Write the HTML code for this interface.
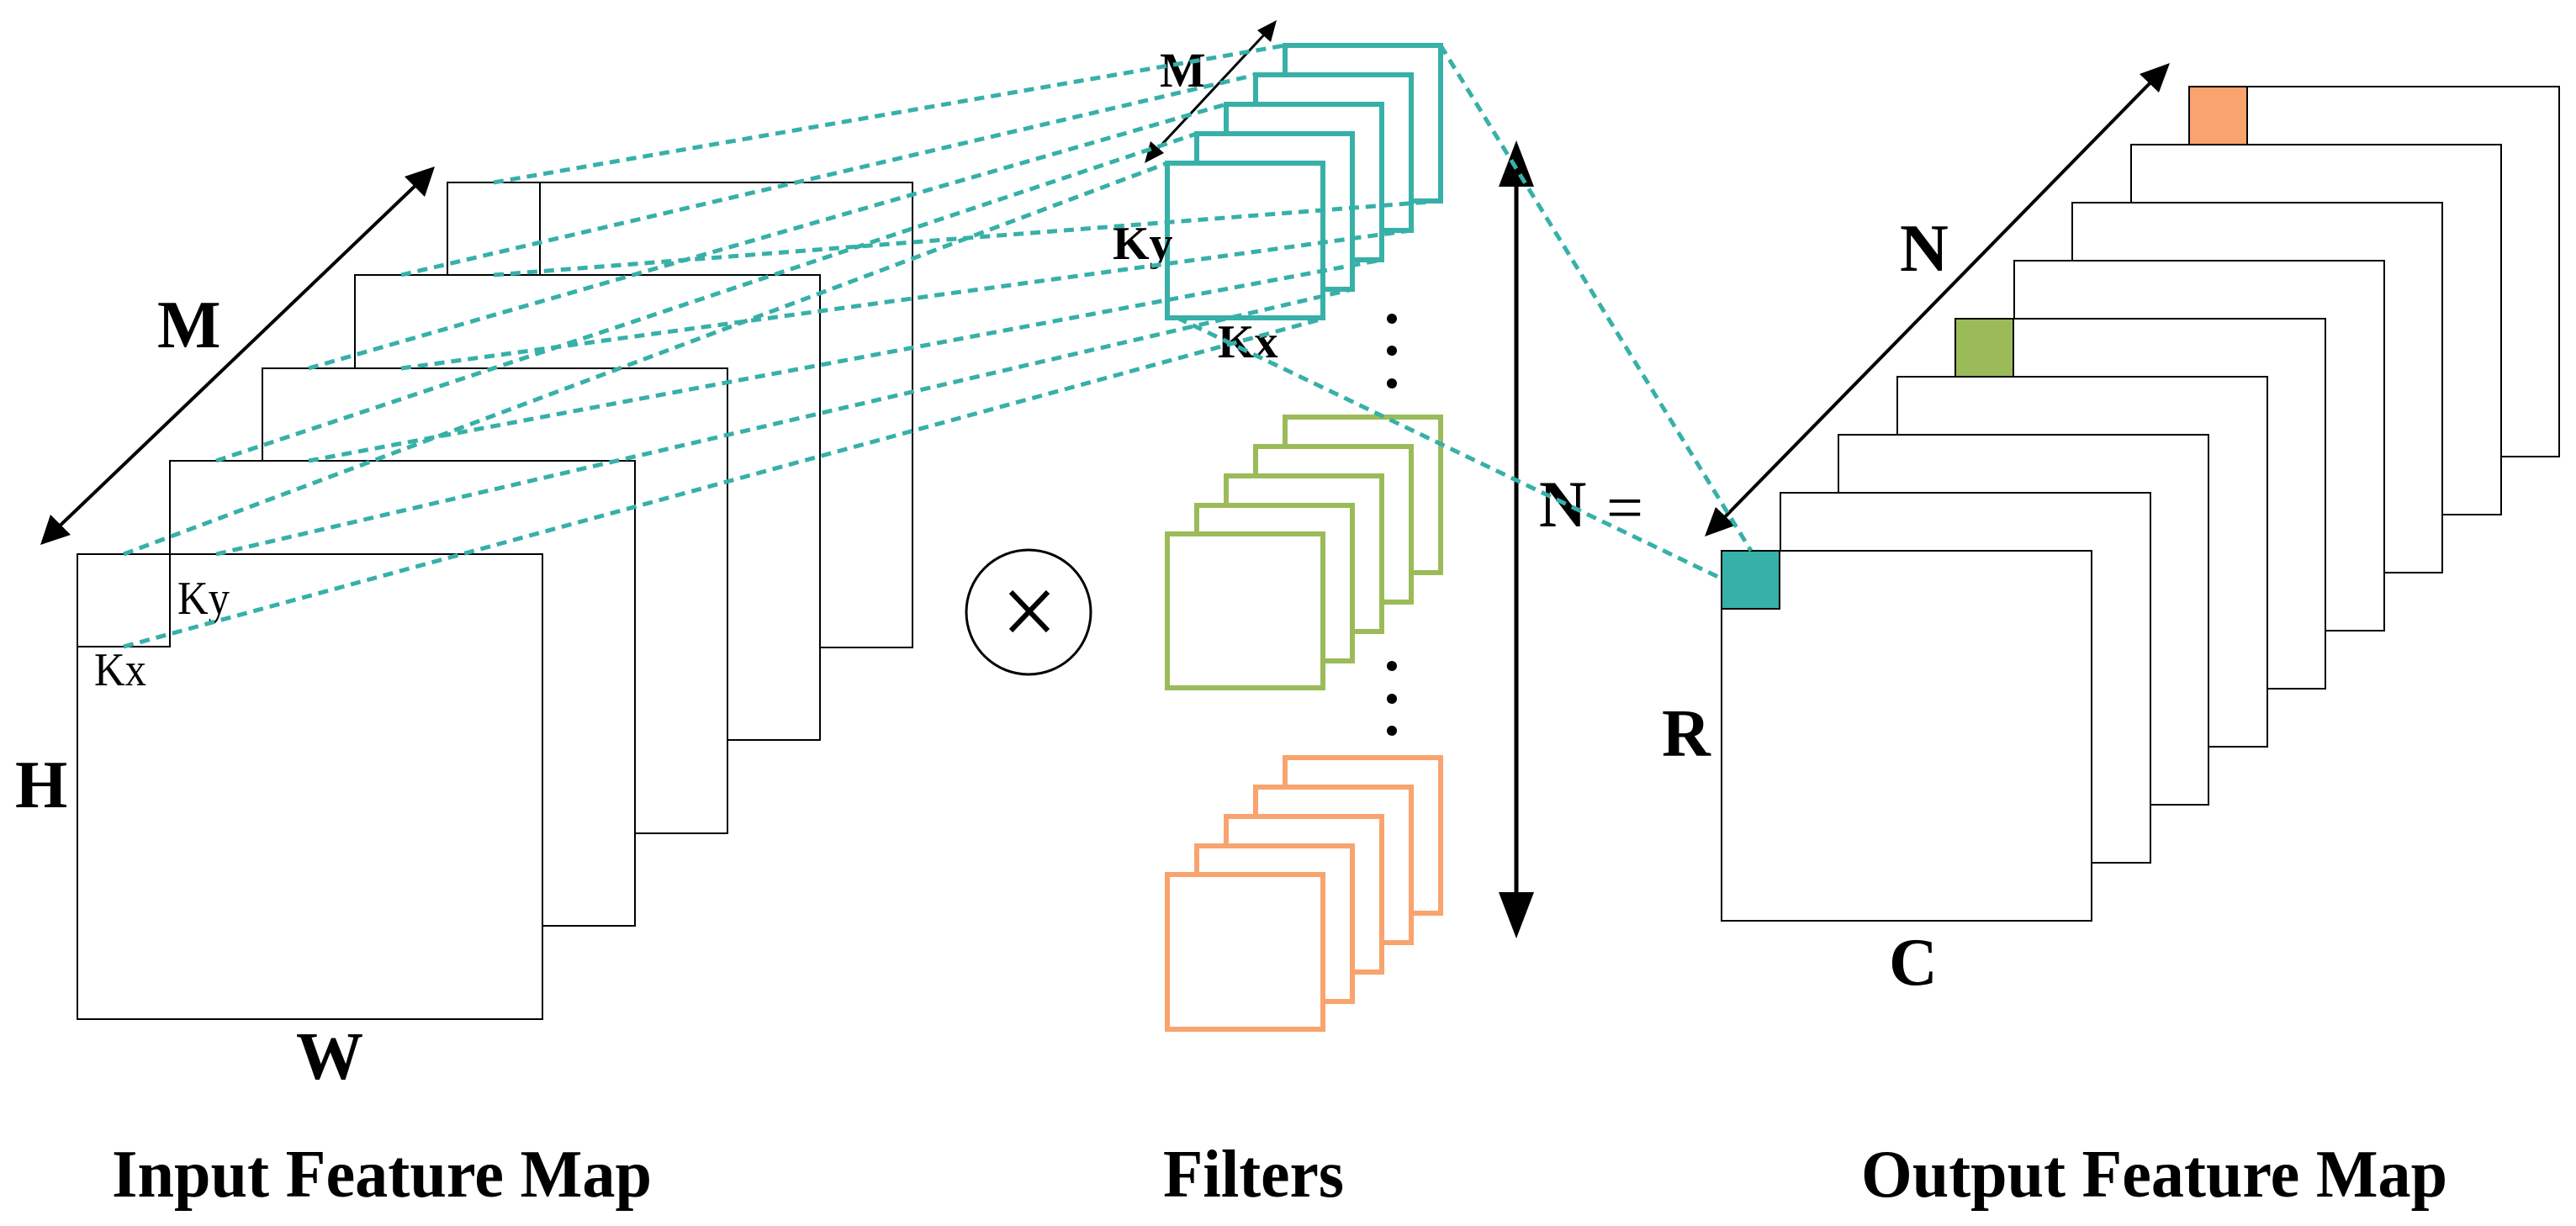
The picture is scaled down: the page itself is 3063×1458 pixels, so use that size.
<!DOCTYPE html>
<html><head><meta charset="utf-8"><style>
html,body{margin:0;padding:0;background:#fff;}
svg{display:block;}
text{font-family:"Liberation Serif",serif;font-weight:bold;fill:#000;}
</style></head><body>
<svg width="3063" height="1458" viewBox="0 0 3063 1458" xmlns="http://www.w3.org/2000/svg">
<!-- Input feature maps -->
<g fill="#fff" stroke="#000" stroke-width="2">
<rect x="532" y="217" width="553" height="553"/>
<line x1="642" y1="217" x2="642" y2="327"/>
<rect x="422" y="327" width="553" height="553"/>
<rect x="312" y="438" width="553" height="553"/>
<rect x="202" y="548" width="553" height="553"/>
<rect x="92" y="659" width="553" height="553"/>
<polyline points="92,769 202,769 202,659" fill="none"/>
</g>
<!-- M arrow -->
<line x1="62" y1="634" x2="503" y2="212" stroke="#000" stroke-width="4"/>
<polygon points="48,648 60,612 84,636" fill="#000"/>
<polygon points="517,198 505,234 481,210" fill="#000"/>
<text x="187" y="413" font-size="80">M</text>
<text x="18" y="960" font-size="80">H</text>
<text x="352" y="1283" font-size="80">W</text>
<text x="112" y="815" font-size="56" style="font-weight:normal" textLength="62" lengthAdjust="spacingAndGlyphs">Kx</text>
<text x="211" y="730" font-size="56" style="font-weight:normal" textLength="62" lengthAdjust="spacingAndGlyphs">Ky</text>
<!-- otimes -->
<circle cx="1223" cy="728" r="74" fill="none" stroke="#000" stroke-width="3"/>
<path d="M1202,704 L1246,750 M1246,704 L1202,750" stroke="#000" stroke-width="6"/>
<!-- Filters -->
<g fill="#fff" stroke-width="6">
<g stroke="#37b0a8">
<rect x="1528" y="54" width="185" height="185"/>
<rect x="1493" y="89" width="185" height="185"/>
<rect x="1458" y="124" width="185" height="185"/>
<rect x="1423" y="159" width="185" height="185"/>
<rect x="1388" y="194" width="185" height="184"/>
</g>
<g stroke="#9bbb59">
<rect x="1528" y="496" width="185" height="185"/>
<rect x="1493" y="531" width="185" height="185"/>
<rect x="1458" y="566" width="185" height="185"/>
<rect x="1423" y="601" width="185" height="185"/>
<rect x="1388" y="635" width="185" height="183"/>
</g>
<g stroke="#f9a36e">
<rect x="1528" y="901" width="185" height="185"/>
<rect x="1493" y="936" width="185" height="185"/>
<rect x="1458" y="971" width="185" height="185"/>
<rect x="1423" y="1006" width="185" height="185"/>
<rect x="1388" y="1040" width="185" height="184"/>
</g>
</g>
<g fill="#000">
<circle cx="1655" cy="379" r="6"/><circle cx="1655" cy="417" r="6"/><circle cx="1655" cy="456" r="6"/>
<circle cx="1655" cy="792" r="6"/><circle cx="1655" cy="831" r="6"/><circle cx="1655" cy="869" r="6"/>
</g>
<!-- small M arrow -->
<line x1="1372" y1="182" x2="1508" y2="36" stroke="#000" stroke-width="3"/>
<polygon points="1361,194 1368,168 1384,182" fill="#000"/>
<polygon points="1518,24 1511,50 1495,36" fill="#000"/>
<text x="1379" y="103" font-size="58">M</text>
<text x="1323" y="308" font-size="56">Ky</text>
<text x="1448" y="425" font-size="56">Kx</text>
<!-- vertical N arrow -->
<line x1="1803" y1="200" x2="1803" y2="1080" stroke="#000" stroke-width="5"/>
<polygon points="1803,167 1782,222 1824,222" fill="#000"/>
<polygon points="1803,1116 1782,1061 1824,1061" fill="#000"/>
<text x="1830" y="626" font-size="78">N</text>
<text x="1910" y="630" font-size="78" style="font-weight:normal">=</text>
<!-- Output maps -->
<g fill="#fff" stroke="#000" stroke-width="2">
<rect x="2603" y="103" width="440" height="440"/>
<rect x="2534" y="172" width="440" height="440"/>
<rect x="2464" y="241" width="440" height="440"/>
<rect x="2395" y="310" width="440" height="440"/>
<rect x="2325" y="379" width="440" height="440"/>
<rect x="2256" y="448" width="440" height="440"/>
<rect x="2186" y="517" width="440" height="440"/>
<rect x="2117" y="586" width="440" height="440"/>
<rect x="2047" y="655" width="440" height="440"/>
<rect x="2603" y="103" width="69" height="69" fill="#f9a36e"/>
<rect x="2325" y="379" width="69" height="69" fill="#9bbb59"/>
<rect x="2047" y="655" width="69" height="69" fill="#37b0a8"/>
</g>
<line x1="2040" y1="626" x2="2566" y2="89" stroke="#000" stroke-width="4"/>
<polygon points="2027,638 2040,603 2063,625" fill="#000"/>
<polygon points="2580,75 2567,110 2544,88" fill="#000"/>
<text x="2259" y="322" font-size="80">N</text>
<text x="1976" y="899" font-size="80">R</text>
<text x="2246" y="1171" font-size="80">C</text>
<!-- dashed connectors -->
<g stroke="#37b0a8" stroke-width="5" stroke-dasharray="12,8" fill="none">
<line x1="147" y1="659" x2="1388" y2="194"/><line x1="147" y1="769" x2="1573" y2="379"/>
<line x1="257" y1="548" x2="1423" y2="159"/><line x1="257" y1="659" x2="1608" y2="344"/>
<line x1="367" y1="438" x2="1458" y2="124"/><line x1="367" y1="548" x2="1643" y2="309"/>
<line x1="477" y1="327" x2="1493" y2="89"/><line x1="477" y1="438" x2="1678" y2="274"/>
<line x1="587" y1="217" x2="1528" y2="54"/><line x1="587" y1="327" x2="1713" y2="239"/>
<line x1="1713" y1="54" x2="2082" y2="655"/>
<line x1="1400" y1="378" x2="2047" y2="688"/>
</g>
<!-- bottom labels -->
<text x="133" y="1423" font-size="80" textLength="642" lengthAdjust="spacingAndGlyphs">Input Feature Map</text>
<text x="1383" y="1423" font-size="80" textLength="215" lengthAdjust="spacingAndGlyphs">Filters</text>
<text x="2213" y="1423" font-size="80" textLength="697" lengthAdjust="spacingAndGlyphs">Output Feature Map</text>
</svg>
</body></html>
